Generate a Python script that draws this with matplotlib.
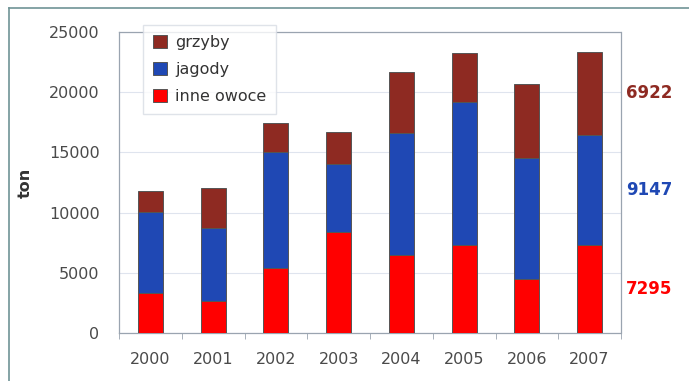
import matplotlib.pyplot as plt
import numpy as np
from matplotlib.lines import Line2D

years = ["2000", "2001", "2002", "2003", "2004", "2005", "2006", "2007"]
inne_owoce = [3350, 2650, 5400, 8400, 6500, 7300, 4500, 7295]
jagody = [6730, 6060, 9660, 5610, 10080, 11900, 10060, 9147]
grzyby = [1740, 3310, 2350, 2660, 5060, 4070, 6110, 6922]

c_red = "#ff0000"
c_blue = "#1f48b4"
c_brown = "#8e2a22"
txt = "#4a4a4a"

fig = plt.figure(figsize=(6.89, 3.81), dpi=100)
ax = fig.add_axes([119 / 689, 1 - 333 / 381, 502 / 689, 301 / 381])

x = np.arange(len(years))
w = 0.4
red = np.array(inne_owoce)
blue = np.array(jagody)
brown = np.array(grzyby)
edge = dict(edgecolor="#555555", linewidth=0.7, zorder=3)
b1 = ax.bar(x, red, w, color=c_red, label="inne owoce", **edge)
b2 = ax.bar(x, blue, w, bottom=red, color=c_blue, label="jagody", **edge)
b3 = ax.bar(x, brown, w, bottom=red + blue, color=c_brown, label="grzyby", **edge)

ax.set_xlim(-0.5, len(years) - 0.5)
ax.set_ylim(0, 25000)
ax.set_yticks(range(0, 25001, 5000))
ax.set_xticks(x)
ax.set_xticklabels(years)
ax.set_xticks(np.arange(-0.5, len(years), 1), minor=True)
ax.tick_params(axis="x", which="major", length=0, pad=14)
ax.tick_params(axis="x", which="minor", length=4, color="#9aa4b0")
ax.tick_params(axis="y", length=0, pad=14)
ax.tick_params(labelsize=11.5, labelcolor=txt)
ax.grid(axis="y", color="#dfe4ee", linewidth=0.8, zorder=0)
for s in ax.spines.values():
    s.set_color("#9aa4b0")
    s.set_linestyle((0, (2, 1)))
    s.set_linewidth(0.9)

ax.set_ylabel("ton", fontsize=11.5, fontweight="bold", color="#333333")
ax.yaxis.set_label_coords(-0.171, 0.5)

# values of the last year, placed beside its segments
last = len(years) - 1
segs = [(red[last] / 2, inne_owoce[last], c_red),
        (red[last] + blue[last] / 2, jagody[last], c_blue),
        (red[last] + blue[last] + brown[last] / 2, grzyby[last], c_brown)]
for ypos, val, col in segs:
    ax.text(last + 0.58, ypos, str(val), color=col, fontsize=12,
            fontweight="bold", va="center", ha="left", clip_on=False)

leg = ax.legend(handles=[b3, b2, b1], loc="upper left",
                bbox_to_anchor=(0.048, 1.023), borderaxespad=0,
                fontsize=11.5, frameon=True, fancybox=False,
                edgecolor="#d8dce4", handlelength=0.9, handleheight=0.9,
                handletextpad=0.5, labelspacing=0.75, borderpad=0.6)
for t in leg.get_texts():
    t.set_color("#333333")

# outer frame
fig.add_artist(Line2D([9 / 689, 9 / 689], [0, 1 - 8 / 381], color="#6f9496", lw=1.2))
fig.add_artist(Line2D([9 / 689, 1], [1 - 8 / 381, 1 - 8 / 381], color="#6f9496", lw=1.2))

fig.savefig("out.png", dpi=100)
